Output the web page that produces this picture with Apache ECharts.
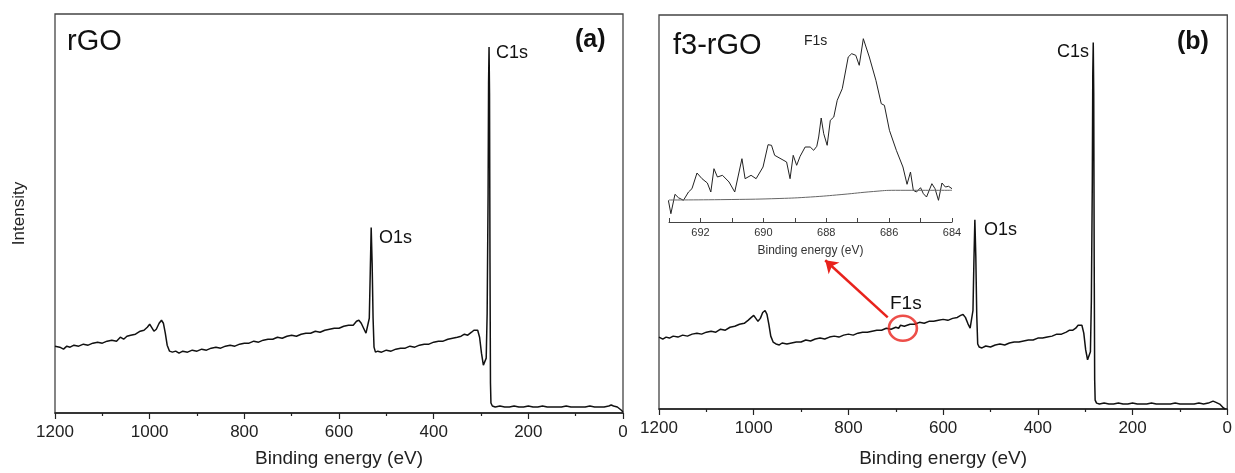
<!DOCTYPE html>
<html>
<head>
<meta charset="utf-8">
<script src="https://cdn.jsdelivr.net/npm/echarts@6/dist/echarts.min.js"></script>
<style>
html,body{margin:0;padding:0;background:#fff;}
#c{width:1235px;height:473px;}
</style>
</head>
<body>
<div id="c"></div>
<script>
// ---- data (binding energy in eV, intensity in arbitrary units) ----
const rgoBE = [1200,1190,1182,1175,1168,1160,1150,1140,1130,1120,1110,1100,1090,1080,1070,1062,1055,1048,1040,1030,1020,1012,1005,1000,996,991,986,980,975,971,967,963,958,952,945,938,930,920,910,900,890,880,870,860,850,840,830,820,810,800,790,780,770,760,750,740,730,720,710,700,690,680,670,660,650,640,630,620,610,600,590,580,570,563,558,553,548,543,539,536,534,532,530,528,526,523,518,510,500,490,480,470,460,450,440,430,420,410,400,390,380,370,360,350,342,335,328,320,315,311,307,303,299,295,292,289,287,285,284,283,282,281,280,279,276,270,260,250,240,230,220,210,200,190,180,170,160,150,140,130,120,110,100,90,80,70,60,50,40,30,25,20,16,12,8,4,0];
const rgoI  = [67,66,64,67,66,68,67,69,68,70,71,70,72,73,72,76,74,77,78,79,82,83,86,89,87,82,84,90,93,90,80,68,62,61,62,60,62,61,63,62,64,63,65,66,65,67,68,67,69,70,70,72,71,73,74,74,76,75,77,78,77,79,80,80,82,81,83,84,85,85,87,88,88,92,93,90,85,80,79,95,140,186,150,95,66,61,62,61,63,62,64,65,65,67,66,68,69,69,71,72,72,74,75,76,77,79,78,81,83,84,83,76,60,48,46,55,100,220,330,367,320,150,30,10,7,6,7,6,6,7,6,6,7,6,6,7,6,6,6,6,7,6,6,6,6,7,6,6,6,7,8,7,8,6,5,3,1];

const f3BE = [1200,1192,1185,1178,1170,1160,1150,1140,1130,1120,1110,1100,1090,1080,1070,1060,1050,1040,1030,1020,1012,1005,1000,996,991,986,981,976,972,968,964,959,953,946,940,930,920,910,900,890,880,870,860,850,840,830,820,810,800,790,780,770,760,750,740,730,720,710,700,694,690,686,682,676,670,660,650,640,630,620,610,600,590,580,570,563,558,553,548,543,539,537,535,533,531,529,527,524,518,510,500,490,480,470,460,450,440,430,420,410,400,390,380,370,360,350,340,333,326,320,315,311,307,303,299,295,292,289,287,285,284,283,282,281,280,279,276,270,260,250,240,230,220,210,200,190,180,170,160,150,140,130,120,110,100,90,80,70,60,50,40,30,25,21,16,12,8,4,0];
const f3I  = [73,71,73,72,74,73,75,74,76,77,76,78,79,78,81,80,83,84,86,87,90,93,95,93,89,92,98,100,96,86,74,68,66,65,67,66,67,68,68,70,69,71,72,71,73,74,73,75,76,75,77,78,78,79,80,80,82,81,83,82,85,86,84,85,86,86,88,87,89,89,90,91,90,92,93,95,96,93,87,82,83,100,150,192,155,95,66,63,62,64,63,65,66,65,67,68,68,69,70,70,72,72,73,74,76,76,78,80,80,82,85,87,85,77,60,50,48,58,110,230,340,372,320,150,30,9,6,5,6,5,5,6,5,5,6,5,5,5,6,5,5,5,5,6,5,5,5,5,6,5,6,8,7,7,5,3,1,0];

const insetBE = [693.02,692.94,692.81,692.70,692.54,692.38,692.27,692.11,691.95,691.78,691.67,691.57,691.46,691.30,691.09,690.91,690.68,690.58,690.39,690.23,690.01,689.85,689.74,689.64,689.26,689.15,689.05,688.94,688.83,688.67,688.51,688.40,688.30,688.24,688.16,688.08,687.97,687.87,687.76,687.65,687.49,687.30,687.19,687.06,686.95,686.82,686.63,686.42,686.25,686.15,685.99,685.77,685.56,685.43,685.32,685.23,685.13,685.00,684.91,684.81,684.64,684.54,684.43,684.32,684.21,684.11,684.00];
const insetI  = [21.7,8.3,27.7,24.3,21.7,30,33.3,49,43.3,39,30,53.3,45,46.7,40,30,63.3,43.3,46.7,43.3,55,77.3,76.7,66.7,60,43.3,66.7,56.7,65.7,75,75,71.7,75.7,85,104,88.3,76.7,101.7,105,121.7,133.3,165,168.3,166.7,156.7,183.3,165,141.7,118.3,116.7,91.7,71.7,55,37.7,50,31.7,30,34.3,28.3,25,38.3,33.3,21.7,39,35,35.7,33.3];
const bgBE = [693.0,691.0,689.5,688.5,687.5,686.5,685.8,684.0];
const bgI  = [22,22.5,23.5,25,27.5,30.5,31.7,31.7];

const f1sMark = [685, 82];          // circled F1s region in survey
const arrowFrom = [717, 93];
const arrowTo = [849, 151];

const pairs = (a, b) => a.map((v, i) => [v, b[i]]);

const FONT = 'Liberation Sans, Arial, sans-serif';
const chart = echarts.init(document.getElementById('c'));

function mainX(idx, gap) {
  return {
    type: 'value', gridIndex: idx, min: 0, max: 1200, interval: 200, inverse: true,
    name: 'Binding energy (eV)', nameLocation: 'middle', nameGap: gap,
    nameTextStyle: {fontFamily: FONT, fontSize: 19, color: '#222'},
    axisLine: {show: true, onZero: false, lineStyle: {color: '#222', width: 1.5}},
    axisTick: {show: true, inside: false, length: 6, lineStyle: {color: '#222', width: 1.2}},
    minorTick: {show: true, splitNumber: 2, length: 3, lineStyle: {color: '#222', width: 1.2}},
    axisLabel: {fontFamily: FONT, fontSize: 17, color: '#222', margin: 11, formatter: v => String(v)},
    splitLine: {show: false}, minorSplitLine: {show: false}
  };
}
function mainY(idx, name) {
  return {
    type: 'value', gridIndex: idx, min: 0, max: 400,
    name: name, nameLocation: 'middle', nameGap: 27, nameRotate: 90,
    nameTextStyle: {fontFamily: FONT, fontSize: 17, color: '#222'},
    axisLine: {show: false}, axisTick: {show: false}, axisLabel: {show: false},
    splitLine: {show: false}
  };
}

const option = {
  backgroundColor: '#fff',
  animation: false,
  grid: [
    {left: 55, right: 612, top: 14, bottom: 59, show: true, borderColor: '#444', borderWidth: 1.3, backgroundColor: 'transparent'},
    {left: 659, right: 5, top: 15, bottom: 59, show: true, borderColor: '#444', borderWidth: 1.3, backgroundColor: 'transparent'},
    {left: 669, right: 283, top: 22, bottom: 251}
  ],
  xAxis: [
    mainX(0, 36),
    mainX(1, 40),
    {
      type: 'value', gridIndex: 2, min: 684, max: 693, interval: 1, inverse: true,
      name: 'Binding energy (eV)', nameLocation: 'middle', nameGap: 23,
      nameTextStyle: {fontFamily: FONT, fontSize: 12, color: '#333'},
      axisLine: {show: true, onZero: false, lineStyle: {color: '#444', width: 1}},
      axisTick: {show: true, inside: true, length: 4, lineStyle: {color: '#444'}},
      axisLabel: {fontFamily: FONT, fontSize: 11, color: '#333', margin: 5,
        formatter: v => (Math.round(v) % 2 === 0 ? String(Math.round(v)) : '')},
      splitLine: {show: false}
    }
  ],
  yAxis: [
    mainY(0, 'Intensity'),
    mainY(1, ''),
    {type: 'value', gridIndex: 2, min: 0, max: 200, show: false, splitLine: {show: false}}
  ],
  series: [
    {type: 'line', xAxisIndex: 0, yAxisIndex: 0, data: pairs(rgoBE, rgoI), showSymbol: false,
     lineStyle: {color: '#111', width: 1.5}, silent: true},
    {type: 'line', xAxisIndex: 1, yAxisIndex: 1, data: pairs(f3BE, f3I), showSymbol: false,
     lineStyle: {color: '#111', width: 1.5}, silent: true,
     markLine: {silent: true, symbol: ['none', 'arrow'], symbolSize: 12,
       lineStyle: {color: '#e8221c', width: 2.5, type: 'solid'}, label: {show: false},
       data: [[{coord: arrowFrom}, {coord: arrowTo}]]}},
    {type: 'scatter', xAxisIndex: 1, yAxisIndex: 1, data: [f1sMark], symbol: 'circle', symbolSize: [28, 25],
     itemStyle: {color: 'rgba(0,0,0,0)', borderColor: '#e8221c', borderWidth: 2.5}, silent: true, z: 5},
    {type: 'line', xAxisIndex: 2, yAxisIndex: 2, data: pairs(insetBE, insetI), showSymbol: false,
     lineStyle: {color: '#222', width: 1}, silent: true},
    {type: 'line', xAxisIndex: 2, yAxisIndex: 2, data: pairs(bgBE, bgI), showSymbol: false, smooth: true,
     lineStyle: {color: '#666', width: 1}, silent: true}
  ],
  graphic: [
    {type: 'text', left: 67, top: 27, style: {text: 'rGO', font: '29px ' + FONT, fill: '#111'}},
    {type: 'text', left: 575, top: 28, style: {text: '(a)', font: 'bold 25px ' + FONT, fill: '#111'}},
    {type: 'text', left: 496, top: 44, style: {text: 'C1s', font: '18px ' + FONT, fill: '#111'}},
    {type: 'text', left: 379, top: 229, style: {text: 'O1s', font: '18px ' + FONT, fill: '#111'}},
    {type: 'text', left: 673, top: 31, style: {text: 'f3-rGO', font: '29px ' + FONT, fill: '#111'}},
    {type: 'text', left: 1177, top: 30, style: {text: '(b)', font: 'bold 25px ' + FONT, fill: '#111'}},
    {type: 'text', left: 1057, top: 43, style: {text: 'C1s', font: '18px ' + FONT, fill: '#111'}},
    {type: 'text', left: 984, top: 221, style: {text: 'O1s', font: '18px ' + FONT, fill: '#111'}},
    {type: 'text', left: 890, top: 294, style: {text: 'F1s', font: '19px ' + FONT, fill: '#111'}},
    {type: 'text', left: 804, top: 34, style: {text: 'F1s', font: '14px ' + FONT, fill: '#222'}}
  ]
};
chart.setOption(option);
</script>
</body>
</html>
